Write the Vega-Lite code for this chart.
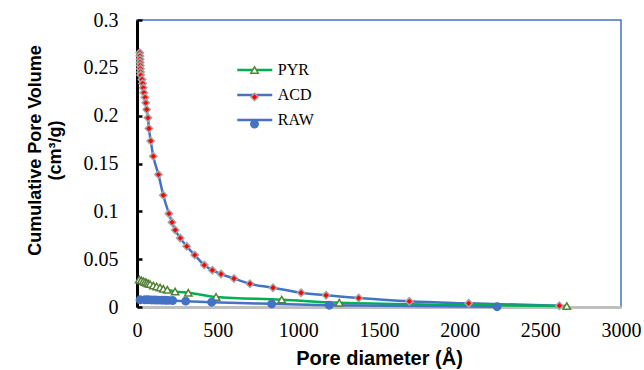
{
  "$schema": "https://vega.github.io/schema/vega-lite/v6.json",
  "width": 484,
  "height": 287,
  "autosize": {"type": "none"},
  "padding": {"left": 137, "top": 20, "right": 23, "bottom": 63},
  "background": "white",
  "config": {
    "view": {"stroke": "#4472C4", "strokeWidth": 1.5},
    "legend": {"padding": 0},
    "axis": {"labelFont": "Liberation Serif, Times New Roman, serif", "titleFont": "Liberation Sans"}
  },
  "data": {
    "values": [
      {"series": "ACD", "d": 17, "v": 0.2658},
      {"series": "ACD", "d": 18, "v": 0.2625},
      {"series": "ACD", "d": 19, "v": 0.259},
      {"series": "ACD", "d": 19.5, "v": 0.2557},
      {"series": "ACD", "d": 20, "v": 0.2525},
      {"series": "ACD", "d": 21, "v": 0.249},
      {"series": "ACD", "d": 22, "v": 0.2457},
      {"series": "ACD", "d": 23, "v": 0.2424},
      {"series": "ACD", "d": 31, "v": 0.2379},
      {"series": "ACD", "d": 35, "v": 0.2337},
      {"series": "ACD", "d": 39, "v": 0.2291},
      {"series": "ACD", "d": 43, "v": 0.2239},
      {"series": "ACD", "d": 50, "v": 0.2191},
      {"series": "ACD", "d": 54, "v": 0.2134},
      {"series": "ACD", "d": 60, "v": 0.2065},
      {"series": "ACD", "d": 68, "v": 0.1977},
      {"series": "ACD", "d": 74, "v": 0.1866},
      {"series": "ACD", "d": 85, "v": 0.1736},
      {"series": "ACD", "d": 101, "v": 0.1576},
      {"series": "ACD", "d": 133, "v": 0.1384},
      {"series": "ACD", "d": 163, "v": 0.1168},
      {"series": "ACD", "d": 198, "v": 0.0976},
      {"series": "ACD", "d": 217, "v": 0.0885},
      {"series": "ACD", "d": 237, "v": 0.0804},
      {"series": "ACD", "d": 268, "v": 0.072},
      {"series": "ACD", "d": 308, "v": 0.0634},
      {"series": "ACD", "d": 358, "v": 0.0543},
      {"series": "ACD", "d": 417, "v": 0.0438},
      {"series": "ACD", "d": 467, "v": 0.0385},
      {"series": "ACD", "d": 521, "v": 0.0344},
      {"series": "ACD", "d": 601, "v": 0.0298},
      {"series": "ACD", "d": 700, "v": 0.0243},
      {"series": "ACD", "d": 843, "v": 0.0201},
      {"series": "ACD", "d": 1017, "v": 0.0149},
      {"series": "ACD", "d": 1172, "v": 0.0122},
      {"series": "ACD", "d": 1374, "v": 0.0094},
      {"series": "ACD", "d": 1688, "v": 0.0059},
      {"series": "ACD", "d": 2056, "v": 0.0038},
      {"series": "ACD", "d": 2618, "v": 0.0014},
      {"series": "PYR", "d": 14, "v": 0.0288},
      {"series": "PYR", "d": 26, "v": 0.0279},
      {"series": "PYR", "d": 39, "v": 0.027},
      {"series": "PYR", "d": 50, "v": 0.0261},
      {"series": "PYR", "d": 60, "v": 0.0253},
      {"series": "PYR", "d": 70, "v": 0.0246},
      {"series": "PYR", "d": 81, "v": 0.0239},
      {"series": "PYR", "d": 101, "v": 0.0225},
      {"series": "PYR", "d": 122, "v": 0.0215},
      {"series": "PYR", "d": 143, "v": 0.0204},
      {"series": "PYR", "d": 163, "v": 0.019},
      {"series": "PYR", "d": 188, "v": 0.018},
      {"series": "PYR", "d": 236, "v": 0.0162},
      {"series": "PYR", "d": 318, "v": 0.0149},
      {"series": "PYR", "d": 490, "v": 0.0105},
      {"series": "PYR", "d": 897, "v": 0.0077},
      {"series": "PYR", "d": 1254, "v": 0.0045},
      {"series": "PYR", "d": 2664, "v": 0.001},
      {"series": "RAW", "d": 19, "v": 0.0075},
      {"series": "RAW", "d": 50, "v": 0.0075},
      {"series": "RAW", "d": 70, "v": 0.0075},
      {"series": "RAW", "d": 91, "v": 0.0074},
      {"series": "RAW", "d": 112, "v": 0.0073},
      {"series": "RAW", "d": 132, "v": 0.0072},
      {"series": "RAW", "d": 153, "v": 0.0071},
      {"series": "RAW", "d": 174, "v": 0.007},
      {"series": "RAW", "d": 194, "v": 0.0069},
      {"series": "RAW", "d": 221, "v": 0.0068},
      {"series": "RAW", "d": 302, "v": 0.0061},
      {"series": "RAW", "d": 463, "v": 0.005},
      {"series": "RAW", "d": 835, "v": 0.0033},
      {"series": "RAW", "d": 1192, "v": 0.0019},
      {"series": "RAW", "d": 2232, "v": 0.0003}
    ]
  },
  "encoding": {
    "x": {
      "field": "d", "type": "quantitative",
      "scale": {"domain": [0, 3000], "nice": false},
      "axis": {
        "values": [0, 500, 1000, 1500, 2000, 2500, 3000],
        "format": "d",
        "title": "Pore diameter (Å)",
        "titleFont": "Liberation Sans", "titleFontSize": 20, "titleFontWeight": "bold", "titleColor": "black",
        "titleBaseline": "alphabetic", "titleY": 57,
        "labelFont": "Liberation Serif, Times New Roman, serif", "labelFontSize": 20, "labelColor": "black",
        "labelPadding": 13, "labelFlush": false,
        "ticks": false, "grid": false,
        "domainColor": "#BFBFBF", "domainWidth": 3,
        "encode": {"labels": {"update": {"font": {"value": "Liberation Serif"}}}}
      }
    },
    "y": {
      "field": "v", "type": "quantitative",
      "scale": {"domain": [0, 0.3], "nice": false},
      "axis": {
        "values": [0, 0.05, 0.1, 0.15, 0.2, 0.25, 0.3],
        "format": "~g",
        "title": ["Cumulative Pore Volume", "(cm³/g)"],
        "titleFont": "Liberation Sans", "titleFontSize": 18, "titleFontWeight": "bold", "titleColor": "black",
        "titleAngle": -90, "titleAlign": "center", "titleBaseline": "middle",
        "titleX": -102, "titleY": 130, "titleLineHeight": 20,
        "labelFont": "Liberation Serif, Times New Roman, serif", "labelFontSize": 20, "labelColor": "black",
        "labelPadding": 24, "labelFlush": false,
        "ticks": true, "tickSize": -5, "tickColor": "black", "tickWidth": 2.5,
        "grid": false,
        "domainColor": "black", "domainWidth": 3,
        "encode": {"labels": {"update": {"font": {"value": "Liberation Serif"}}}}
      }
    }
  },
  "layer": [
    {
      "mark": {"type": "line", "interpolate": "monotone", "strokeWidth": 2.5},
      "encoding": {
        "color": {
          "field": "series", "type": "nominal",
          "sort": ["PYR", "ACD", "RAW"],
          "scale": {"range": ["#00B050", "#4472C4", "#4472C4"]},
          "legend": {
            "orient": "none", "legendX": 107.75, "legendY": 40,
            "title": null,
            "symbolType": "M-2,0H2", "symbolSize": 306, "symbolStrokeWidth": 2.5,
            "labelFont": "Liberation Serif", "labelFontSize": 16, "labelColor": "black",
            "labelOffset": 13, "rowPadding": 7
          }
        }
      }
    },
    {
      "mark": {"type": "point", "size": 55, "strokeWidth": 1.5, "opacity": 1},
      "encoding": {
        "shape": {
          "field": "series", "type": "nominal",
          "scale": {"domain": ["PYR", "ACD", "RAW"], "range": ["triangle-up", "diamond", "circle"]},
          "legend": {
            "orient": "none", "legendX": 109.5, "legendY": 42,
            "title": null, "symbolSize": 55, "symbolStrokeWidth": 1.5,
            "labelExpr": "''", "labelFontSize": 16, "rowPadding": 11
          }
        },
        "fill": {
          "field": "series", "type": "nominal",
          "scale": {"domain": ["PYR", "ACD", "RAW"], "range": ["white", "#FF0000", "#4472C4"]},
          "legend": {
            "orient": "none", "legendX": 109.5, "legendY": 42,
            "title": null, "symbolSize": 55, "symbolStrokeWidth": 1.5,
            "labelExpr": "''", "labelFontSize": 16, "rowPadding": 11
          }
        },
        "stroke": {
          "field": "series", "type": "nominal",
          "scale": {"domain": ["PYR", "ACD", "RAW"], "range": ["#548235", "#A6A6A6", "#4472C4"]},
          "legend": {
            "orient": "none", "legendX": 109.5, "legendY": 42,
            "title": null, "symbolSize": 55, "symbolStrokeWidth": 1.5,
            "labelExpr": "''", "labelFontSize": 16, "rowPadding": 11
          }
        }
      }
    }
  ]
}
